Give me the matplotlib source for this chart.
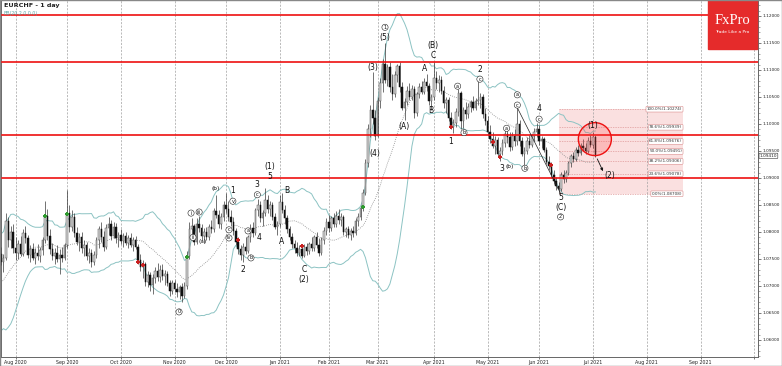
import matplotlib
matplotlib.use('Agg')
import matplotlib.pyplot as plt
import numpy as np
import pandas as pd
from matplotlib.patches import Ellipse, Rectangle
from matplotlib.ticker import MultipleLocator, FormatStrFormatter

plt.rcParams['font.family'] = ['DejaVu Sans']

# ---- data -------------------------------------------------------------
first_day = '2020-07-24'
last_day = '2021-07-02'
axis_end = '2021-10-29'
holidays = ['2020-12-25', '2021-01-01']

opens = [
    1.0760, 1.0745, 1.0752, 1.0820, 1.0785, 1.0800, 1.0770, 1.0762, 1.0778, 1.0760,
    1.0798, 1.0788, 1.0758, 1.0768, 1.0752, 1.0762, 1.0755, 1.0766, 1.0785, 1.0830,
    1.0792, 1.0768, 1.0755, 1.0762, 1.0750, 1.0758, 1.0752, 1.0775, 1.0835, 1.0810,
    1.0828, 1.0798, 1.0782, 1.0790, 1.0770, 1.0776, 1.0755, 1.0762, 1.0745, 1.0758,
    1.0785, 1.0805, 1.0790, 1.0772, 1.0808, 1.0815, 1.0792, 1.0810, 1.0788, 1.0795,
    1.0784, 1.0792, 1.0780, 1.0788, 1.0776, 1.0785, 1.0772, 1.0748, 1.0735, 1.0740,
    1.0708, 1.0720, 1.0702, 1.0715, 1.0728, 1.0716, 1.0730, 1.0718, 1.0722, 1.0705,
    1.0690, 1.0705, 1.0695, 1.0688, 1.0698, 1.0682, 1.0700, 1.0755, 1.0805, 1.0812,
    1.0782, 1.0815, 1.0808, 1.0792, 1.0800, 1.0790, 1.0810, 1.0805, 1.0838, 1.0832,
    1.0815, 1.0828, 1.0850, 1.0842, 1.0828, 1.0818, 1.0802, 1.0782, 1.0768, 1.0758,
    1.0772, 1.0765, 1.0790, 1.0808, 1.0798, 1.0840, 1.0850, 1.0825, 1.0835, 1.0860,
    1.0842, 1.0850, 1.0828, 1.0810, 1.0815, 1.0855, 1.0840, 1.0825, 1.0805, 1.0790,
    1.0778, 1.0770, 1.0762, 1.0768, 1.0755, 1.0772, 1.0765, 1.0778, 1.0770, 1.0790,
    1.0775, 1.0762, 1.0785, 1.0802, 1.0818, 1.0808, 1.0825, 1.0815, 1.0830, 1.0822,
    1.0828, 1.0800, 1.0805, 1.0795, 1.0802, 1.0798, 1.0820, 1.0828, 1.0845, 1.0872,
    1.0928, 1.0990, 1.1025, 1.1012, 1.0978, 1.1042, 1.1075, 1.1112, 1.1082, 1.1105,
    1.1068, 1.1055, 1.1090, 1.1108, 1.1068, 1.1030, 1.1040, 1.1062, 1.1050, 1.1065,
    1.1020, 1.1055, 1.1068, 1.1060, 1.1078, 1.1070, 1.1042, 1.1050, 1.1085, 1.1075,
    1.1082, 1.1062, 1.1038, 1.1045, 1.1012, 1.0995, 1.1002, 1.1022, 1.1058, 1.1005,
    1.1025, 1.1018, 1.1032, 1.1040, 1.1030, 1.1042, 1.1045, 1.1050, 1.1018, 1.1005,
    1.0985, 1.0972, 1.0960, 1.0970, 1.0945, 1.0950, 1.0965, 1.0982, 1.0975, 1.0958,
    1.0978, 1.0968, 1.1000, 1.0968, 1.0945, 1.0950, 1.0968, 1.0962, 1.0978, 1.0985,
    1.0990, 1.0968, 1.0972, 1.0952, 1.0930, 1.0922, 1.0905, 1.0895, 1.0885, 1.0880,
    1.0905, 1.0898, 1.0910, 1.0928, 1.0940, 1.0936, 1.0952, 1.0946, 1.0960, 1.0955,
    1.0950, 1.0968, 1.0962, 1.0975,
]
highs = [
    1.0772, 1.0760, 1.0835, 1.0828, 1.0812, 1.0815, 1.0790, 1.0785, 1.0792, 1.0805,
    1.0812, 1.0795, 1.0775, 1.0780, 1.0770, 1.0778, 1.0772, 1.0790, 1.0858, 1.0842,
    1.0805, 1.0780, 1.0770, 1.0775, 1.0768, 1.0772, 1.0780, 1.0878, 1.0850, 1.0840,
    1.0835, 1.0810, 1.0798, 1.0800, 1.0785, 1.0782, 1.0770, 1.0768, 1.0765, 1.0790,
    1.0812, 1.0818, 1.0802, 1.0815, 1.0828, 1.0822, 1.0818, 1.0816, 1.0800, 1.0805,
    1.0798, 1.0800, 1.0795, 1.0798, 1.0790, 1.0792, 1.0778, 1.0760, 1.0748, 1.0745,
    1.0728, 1.0726, 1.0722, 1.0735, 1.0742, 1.0738, 1.0740, 1.0730, 1.0728, 1.0712,
    1.0712, 1.0712, 1.0705, 1.0702, 1.0705, 1.0708, 1.0765, 1.0818, 1.0825, 1.0815,
    1.0825, 1.0830, 1.0815, 1.0808, 1.0810, 1.0815, 1.0822, 1.0845, 1.0868, 1.0840,
    1.0835, 1.0858, 1.0872, 1.0858, 1.0840, 1.0828, 1.0808, 1.0790, 1.0775, 1.0780,
    1.0790, 1.0795, 1.0815, 1.0818, 1.0845, 1.0862, 1.0858, 1.0840, 1.0882, 1.0868,
    1.0858, 1.0856, 1.0835, 1.0820, 1.0868, 1.0872, 1.0850, 1.0832, 1.0812, 1.0798,
    1.0786, 1.0782, 1.0775, 1.0772, 1.0778, 1.0780, 1.0782, 1.0790, 1.0795, 1.0800,
    1.0788, 1.0790, 1.0810, 1.0825, 1.0832, 1.0830, 1.0835, 1.0838, 1.0842, 1.0835,
    1.0832, 1.0810, 1.0812, 1.0808, 1.0812, 1.0825, 1.0835, 1.0850, 1.0880, 1.0935,
    1.1000, 1.1035, 1.1096, 1.1025, 1.1050, 1.1085, 1.1120, 1.1150, 1.1112, 1.1115,
    1.1092, 1.1098, 1.1112, 1.1115, 1.1078, 1.1048, 1.1070, 1.1075, 1.1072, 1.1070,
    1.1060, 1.1075, 1.1080, 1.1085, 1.1092, 1.1075, 1.1055, 1.1115, 1.1098, 1.1090,
    1.1088, 1.1070, 1.1050, 1.1050, 1.1022, 1.1010, 1.1030, 1.1065, 1.1062, 1.1032,
    1.1040, 1.1038, 1.1045, 1.1052, 1.1048, 1.1087, 1.1058, 1.1055, 1.1030, 1.1015,
    1.0998, 1.0985, 1.0978, 1.0975, 1.0958, 1.0972, 1.0988, 1.0995, 1.0985, 1.0985,
    1.0990, 1.1030, 1.1008, 1.0975, 1.0958, 1.0975, 1.0980, 1.0982, 1.0992, 1.1002,
    1.0998, 1.0978, 1.0975, 1.0958, 1.0940, 1.0930, 1.0915, 1.0902, 1.0892, 1.0912,
    1.0915, 1.0915, 1.0932, 1.0945, 1.0948, 1.0958, 1.0962, 1.0965, 1.0972, 1.0965,
    1.0975, 1.0980, 1.0985, 1.0980,
]
lows = [
    1.0738, 1.0725, 1.0748, 1.0772, 1.0770, 1.0762, 1.0748, 1.0750, 1.0755, 1.0755,
    1.0780, 1.0752, 1.0745, 1.0748, 1.0740, 1.0748, 1.0745, 1.0758, 1.0780, 1.0785,
    1.0760, 1.0748, 1.0740, 1.0745, 1.0722, 1.0745, 1.0748, 1.0770, 1.0800, 1.0802,
    1.0790, 1.0775, 1.0765, 1.0762, 1.0755, 1.0748, 1.0742, 1.0735, 1.0738, 1.0752,
    1.0770, 1.0782, 1.0765, 1.0768, 1.0795, 1.0785, 1.0788, 1.0780, 1.0772, 1.0778,
    1.0772, 1.0775, 1.0770, 1.0772, 1.0765, 1.0768, 1.0740, 1.0728, 1.0715, 1.0700,
    1.0698, 1.0690, 1.0685, 1.0705, 1.0710, 1.0708, 1.0712, 1.0702, 1.0700, 1.0682,
    1.0685, 1.0688, 1.0680, 1.0675, 1.0670, 1.0678, 1.0695, 1.0750, 1.0795, 1.0775,
    1.0778, 1.0800, 1.0785, 1.0780, 1.0785, 1.0786, 1.0798, 1.0800, 1.0825, 1.0808,
    1.0805, 1.0820, 1.0835, 1.0820, 1.0812, 1.0795, 1.0775, 1.0760, 1.0748, 1.0745,
    1.0760, 1.0762, 1.0782, 1.0790, 1.0795, 1.0830, 1.0818, 1.0812, 1.0830, 1.0835,
    1.0830, 1.0822, 1.0805, 1.0795, 1.0810, 1.0835, 1.0815, 1.0798, 1.0785, 1.0770,
    1.0762, 1.0755, 1.0756, 1.0752, 1.0753, 1.0758, 1.0760, 1.0765, 1.0765, 1.0770,
    1.0755, 1.0758, 1.0778, 1.0795, 1.0800, 1.0802, 1.0810, 1.0810, 1.0815, 1.0812,
    1.0795, 1.0790, 1.0788, 1.0785, 1.0790, 1.0795, 1.0812, 1.0822, 1.0838, 1.0868,
    1.0920, 1.0975, 1.1000, 1.0970, 1.0975, 1.1030, 1.1060, 1.1075, 1.1070, 1.1060,
    1.1045, 1.1050, 1.1078, 1.1060, 1.1025, 1.1007, 1.1035, 1.1045, 1.1045, 1.1012,
    1.1015, 1.1048, 1.1055, 1.1055, 1.1062, 1.1035, 1.1026, 1.1045, 1.1065, 1.1060,
    1.1055, 1.1030, 1.1020, 1.1005, 1.0990, 1.0983, 1.0995, 1.1015, 1.0990, 1.0992,
    1.1010, 1.1012, 1.1022, 1.1025, 1.1025, 1.1035, 1.1030, 1.1012, 1.0998, 1.0978,
    1.0965, 1.0955, 1.0945, 1.0938, 1.0932, 1.0942, 1.0958, 1.0965, 1.0950, 1.0952,
    1.0960, 1.0962, 1.0960, 1.0940, 1.0920, 1.0945, 1.0955, 1.0958, 1.0968, 1.0975,
    1.0962, 1.0955, 1.0948, 1.0925, 1.0915, 1.0900, 1.0888, 1.0878, 1.0871, 1.0876,
    1.0890, 1.0892, 1.0905, 1.0920, 1.0930, 1.0932, 1.0940, 1.0942, 1.0950, 1.0945,
    1.0946, 1.0958, 1.0955, 1.0938,
]
closes = [
    1.0745, 1.0752, 1.0820, 1.0785, 1.0800, 1.0770, 1.0762, 1.0778, 1.0760, 1.0798,
    1.0788, 1.0758, 1.0768, 1.0752, 1.0762, 1.0755, 1.0766, 1.0785, 1.0830, 1.0792,
    1.0768, 1.0755, 1.0762, 1.0750, 1.0758, 1.0752, 1.0775, 1.0835, 1.0810, 1.0828,
    1.0798, 1.0782, 1.0790, 1.0770, 1.0776, 1.0755, 1.0762, 1.0745, 1.0758, 1.0785,
    1.0805, 1.0790, 1.0772, 1.0808, 1.0815, 1.0792, 1.0810, 1.0788, 1.0795, 1.0784,
    1.0792, 1.0780, 1.0788, 1.0776, 1.0785, 1.0772, 1.0748, 1.0735, 1.0740, 1.0708,
    1.0720, 1.0702, 1.0715, 1.0728, 1.0716, 1.0730, 1.0718, 1.0722, 1.0705, 1.0690,
    1.0705, 1.0695, 1.0688, 1.0698, 1.0682, 1.0700, 1.0755, 1.0805, 1.0812, 1.0782,
    1.0815, 1.0808, 1.0792, 1.0800, 1.0790, 1.0810, 1.0805, 1.0838, 1.0832, 1.0815,
    1.0828, 1.0850, 1.0842, 1.0828, 1.0818, 1.0802, 1.0782, 1.0768, 1.0758, 1.0772,
    1.0765, 1.0790, 1.0808, 1.0798, 1.0840, 1.0850, 1.0825, 1.0835, 1.0860, 1.0842,
    1.0850, 1.0828, 1.0810, 1.0815, 1.0855, 1.0840, 1.0825, 1.0805, 1.0790, 1.0778,
    1.0770, 1.0762, 1.0768, 1.0755, 1.0772, 1.0765, 1.0778, 1.0770, 1.0790, 1.0775,
    1.0762, 1.0785, 1.0802, 1.0818, 1.0808, 1.0825, 1.0815, 1.0830, 1.0822, 1.0828,
    1.0800, 1.0805, 1.0795, 1.0802, 1.0798, 1.0820, 1.0828, 1.0845, 1.0872, 1.0928,
    1.0990, 1.1025, 1.1012, 1.0978, 1.1042, 1.1075, 1.1112, 1.1082, 1.1105, 1.1068,
    1.1055, 1.1090, 1.1108, 1.1068, 1.1030, 1.1040, 1.1062, 1.1050, 1.1065, 1.1020,
    1.1055, 1.1068, 1.1060, 1.1078, 1.1070, 1.1042, 1.1050, 1.1085, 1.1075, 1.1082,
    1.1062, 1.1038, 1.1045, 1.1012, 1.0995, 1.1002, 1.1022, 1.1058, 1.1005, 1.1025,
    1.1018, 1.1032, 1.1040, 1.1030, 1.1042, 1.1045, 1.1050, 1.1018, 1.1005, 1.0985,
    1.0972, 1.0960, 1.0970, 1.0945, 1.0950, 1.0965, 1.0982, 1.0975, 1.0958, 1.0978,
    1.0968, 1.1000, 1.0968, 1.0945, 1.0950, 1.0968, 1.0962, 1.0978, 1.0985, 1.0990,
    1.0968, 1.0972, 1.0952, 1.0930, 1.0922, 1.0905, 1.0895, 1.0885, 1.0880, 1.0905,
    1.0898, 1.0910, 1.0928, 1.0940, 1.0936, 1.0952, 1.0946, 1.0960, 1.0955, 1.0950,
    1.0968, 1.0962, 1.0975, 1.0941,
]
# closes of the sessions before the visible window (feed the 20-day bands)
warmup_closes = [1.0668, 1.0672, 1.0665, 1.0660, 1.0655, 1.0650, 1.0658, 1.0665, 1.0675,
                 1.0690, 1.0705, 1.0718, 1.0728, 1.0740, 1.0752, 1.0765, 1.0772, 1.0780, 1.0770]

levels = [1.1202, 1.1114, 1.0980, 1.0900]
fib_low, fib_high = 1.08708, 1.10274
fib_ratios = [0.0, 0.236, 0.382, 0.5, 0.618, 0.786, 1.0]
fib_from, fib_to = '2021-06-11', '2021-08-23'

green_marks = [('2020-08-19', 1.0830), ('2020-09-01', 1.0834), ('2020-11-09', 1.0754), ('2021-02-19', 1.0846)]
red_marks = [('2020-10-12', 1.0745), ('2020-10-14', 1.0739), ('2020-12-08', 1.0785), ('2021-01-15', 1.0774),
             ('2021-04-12', 1.0994), ('2021-05-05', 1.0966), ('2021-05-10', 1.0939), ('2021-06-08', 1.0924)]

# wave counts: (bar, price, text, circled)
wave_labels = [
    (72.8, 1.0652, '0', True), (77.7, 1.0835, 'i', True), (78.5, 1.0790, 'ii', True),
    (81.0, 1.0837, 'iii', True), (82.6, 1.0783, '(a)', False), (87.9, 1.0880, '(b)', False),
    (94.8, 1.0876, '1', False), (94.8, 1.0857, 'v', True), (93.2, 1.0804, 'c', True),
    (93.2, 1.0789, 'iv', True), (101.0, 1.0802, 'a', True), (102.2, 1.0752, 'b', True),
    (98.9, 1.0730, '2', False), (104.7, 1.0888, '3', False), (104.8, 1.0869, 'c', True),
    (105.5, 1.0790, '4', False), (110.0, 1.0921, '(1)', False), (110.0, 1.0903, '5', False),
    (114.8, 1.0782, 'A', False), (117.0, 1.0876, 'B', False), (123.9, 1.0731, 'C', False),
    (123.9, 1.0712, '(2)', False), (157.0, 1.1179, '1', True), (157.0, 1.1160, '(5)', False),
    (152.0, 1.1105, '(3)', False), (152.9, 1.0946, '(4)', False), (164.9, 1.0996, '(A)', False),
    (176.7, 1.1146, '(B)', False), (176.7, 1.1127, 'C', False), (173.0, 1.1103, 'A', False),
    (175.8, 1.1025, 'B', False), (184.0, 1.0967, '1', False), (186.7, 1.1070, 'a', True),
    (189.3, 1.0984, 'b', True), (195.8, 1.1100, '2', False), (195.8, 1.1083, 'c', True),
    (211.1, 1.1054, 'a', True), (211.1, 1.1035, 'c', True), (206.7, 1.0992, 'a', True),
    (204.7, 1.0918, '3', False), (207.8, 1.0921, '(b)', False), (214.2, 1.0918, 'b', True),
    (220.0, 1.1028, '4', False), (220.0, 1.1009, 'c', True), (228.8, 1.0864, '5', False),
    (228.8, 1.0846, '(C)', False), (228.8, 1.0828, '2', True), (241.9, 1.0997, '(1)', False),
    (249.0, 1.0904, '(2)', False),
]


def trading_days(start, end):
    d = pd.bdate_range(start, end)
    return d[~d.isin(pd.to_datetime(holidays))]


dates = trading_days(first_day, last_day)
calendar = trading_days(first_day, axis_end)
pos = {d: i for i, d in enumerate(calendar)}
x = np.arange(len(dates))
o, h, l, c = (np.array(v) for v in (opens, highs, lows, closes))

series = pd.Series(warmup_closes + closes)
mid = series.rolling(20).mean().values[len(warmup_closes):]
sd = series.rolling(20).std(ddof=0).values[len(warmup_closes):]

# ---- figure -----------------------------------------------------------
fig = plt.figure(figsize=(7.82, 3.66), dpi=100)
fig.patch.set_facecolor('white')
ax = fig.add_axes([1 / 782, 9 / 366, 757 / 782, 357 / 366])
ax.set_xlim(0, 309.5)
ax.set_ylim(1.05685, 1.12296)

# month grid
month_pos, month_lab = [], []
for d in calendar:
    if pos[d] > 0 and d.month != calendar[pos[d] - 1].month:
        month_pos.append(pos[d])
        month_lab.append(d.strftime('%b %Y'))
month_lab[-1] = ''
for p in month_pos:
    ax.axvline(p, color='#a0a0a0', lw=0.5, ls=(0, (3, 2)), zorder=1)
ax.set_xticks(month_pos)
ax.set_xticklabels(month_lab)

# fibonacci box
f0, f1 = pos[pd.Timestamp(fib_from)], pos[pd.Timestamp(fib_to)]
ax.add_patch(Rectangle((f0, fib_low), f1 - f0, fib_high - fib_low,
                       fc='#fae0e0', ec='none', zorder=0.5))
for r in fib_ratios:
    lvl = fib_low + r * (fib_high - fib_low)
    ax.plot([f0, f1], [lvl, lvl], color='#e09a9a', lw=0.5, ls=(0, (2, 1.5)), zorder=0.8)
    ax.text(f1 - 0.5, lvl, f'{r * 100:.1f}%({lvl:.5f})', ha='right', va='center', fontsize=3.0,
            color='#333', zorder=6,
            bbox=dict(boxstyle='round,pad=0.2', fc='white', ec='#d98c8c', lw=0.4))

# bollinger bands
ax.plot(x, mid + 2 * sd, color='#8cc3c3', lw=0.7, zorder=2)
ax.plot(x, mid - 2 * sd, color='#8cc3c3', lw=0.7, zorder=2)
ax.plot(x, mid, color='#8a8a8a', lw=0.6, ls=(0, (1, 1.5)), zorder=2)

# candles
up = c >= o
ax.vlines(x, l, h, color='#3a3a3a', lw=0.5, zorder=3)
ax.bar(x[up], c[up] - o[up], bottom=o[up], width=0.62, color='#d6d6d6', edgecolor='#505050',
       lw=0.35, zorder=4)
ax.bar(x[~up], o[~up] - c[~up], bottom=c[~up], width=0.62, color='#101010', edgecolor='#101010',
       lw=0.35, zorder=4)

gx = [pos[pd.Timestamp(d)] for d, _ in green_marks]
ax.scatter(gx, [p for _, p in green_marks], marker='P', s=7, color='#2e9a2e', lw=0, zorder=5)
rx = [pos[pd.Timestamp(d)] for d, _ in red_marks]
ax.scatter(rx, [p for _, p in red_marks], marker='P', s=7, color='#c82020', lw=0, zorder=5)

# horizontal levels
for lvl in levels:
    ax.axhline(lvl, color='#ee1010', lw=1.2, zorder=5)

# wave labels
for bx, p, t, circ in wave_labels:
    if circ:
        ax.text(bx, p, t, fontsize=3.6, ha='center', va='center', color='#111', zorder=7,
                bbox=dict(boxstyle='circle,pad=0.12', fc='white', ec='#222', lw=0.4))
    else:
        ax.text(bx, p, t, fontsize=4.2 if t in ('(a)', '(b)') else 5.5, ha='center', va='center',
                color='#111', zorder=7)

ax.plot([211.1, 228.6], [1.1030, 1.0873], color='#222', lw=0.5, zorder=6)
ax.add_patch(Ellipse((242.8, 1.0972), 13.5, 0.0061, fc=(1, 0.3, 0.3, 0.25), ec='#ee1010',
                     lw=1.0, zorder=6))
ax.annotate('', xy=(246.6, 1.0908), xytext=(243.3, 1.0940),
            arrowprops=dict(arrowstyle='-|>', lw=0.6, color='#111', mutation_scale=4), zorder=7)

# axes styling
ax.yaxis.tick_right()
ax.yaxis.set_major_locator(MultipleLocator(0.005))
ax.yaxis.set_minor_locator(MultipleLocator(0.001))
ax.yaxis.set_major_formatter(FormatStrFormatter('%.5f'))
ax.tick_params(axis='y', which='major', labelsize=3.1, length=2.2, width=0.5, pad=1.0,
               colors='#444', labelcolor='#222')
ax.tick_params(axis='y', which='minor', length=1.2, width=0.4, colors='#666')
ax.tick_params(axis='x', labelsize=3.4, length=1.5, width=0.5, pad=0.4, colors='#444',
               labelcolor='#222')
for side in ('left', 'bottom', 'right', 'top'):
    ax.spines[side].set_color('#666')
    ax.spines[side].set_linewidth(0.7)

ax.annotate(f'{closes[-1]:.5f}', xy=(1, closes[-1]), xycoords=('axes fraction', 'data'),
            xytext=(1.2, 0), textcoords='offset points', fontsize=3.1, ha='left', va='center',
            color='#222', annotation_clip=False,
            bbox=dict(boxstyle='round,pad=0.15', fc='white', ec='#333', lw=0.4))

fig.text(4 / 782, 1 - 6 / 366, 'EURCHF - 1 day', fontsize=4.6, weight='bold', color='#222',
         va='center')
fig.text(4 / 782, 1 - 13 / 366, 'BB(20,2.0,0.0)', fontsize=3.4, color='#5fa8a8', va='center')

# logo
fig.add_artist(Rectangle((708 / 782, 1 - 49 / 366), 49 / 782, 49 / 366,
                         transform=fig.transFigure, color='#e52b2b', zorder=10))
fig.text(732.5 / 782, 1 - 21 / 366, 'FxPro', family='Liberation Serif', fontsize=10.5,
         color='white', ha='center', va='center', zorder=11)
fig.text(732.5 / 782, 1 - 32 / 366, 'Trade Like a Pro', fontsize=3.2, color='white',
         ha='center', va='center', zorder=11)
fig.add_artist(Rectangle((0, 0), 1, 1, transform=fig.transFigure, fill=False, ec='#888',
                         lw=1.0, zorder=12))

fig.savefig('out.png', dpi=100)
